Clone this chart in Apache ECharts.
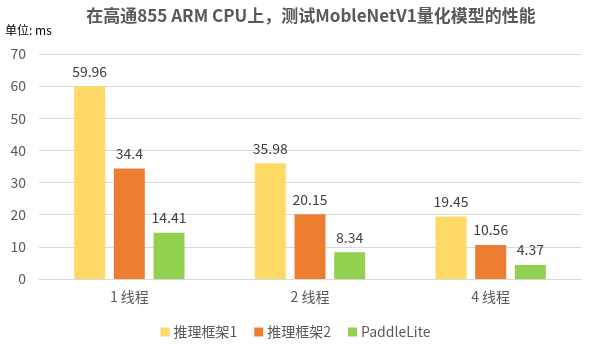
<!DOCTYPE html>
<html><head><meta charset="utf-8">
<script src="https://cdn.jsdelivr.net/npm/echarts@6/dist/echarts.min.js"></script>
<style>html,body{margin:0;padding:0;background:#fff}#c{width:591px;height:353px}</style>
</head><body><div id="c"></div>
<script>
const categories = ['1 线程', '2 线程', '4 线程'];
const seriesNames = ['推理框架1', '推理框架2', 'PaddleLite'];
const framework1 = [59.96, 35.98, 19.45];
const framework2 = [34.4, 20.15, 10.56];
const paddleLite = [14.41, 8.34, 4.37];
const yTicks = { min: 0, max: 70, interval: 10 };
const colors = ['#FFD966', '#ED7D31', '#92D050'];
const font = '"Noto Sans CJK SC", "Noto Sans", sans-serif';

const chart = echarts.init(document.getElementById('c'), null, { renderer: 'canvas' });
const mk = (name, data, color) => ({
  name, type: 'bar', data, barWidth: 31, barGap: '28%',
  itemStyle: { color },
  label: { show: true, position: 'top', distance: 8, color: '#404040', fontSize: 14, fontFamily: font }
});
chart.setOption({
  animation: false,
  color: colors,
  title: [
    { text: '在高通855 ARM CPU上，测试MobleNetV1量化模型的性能', left: 306, textAlign: 'center', top: 2,
      textStyle: { fontSize: 17, fontWeight: 'bold', color: '#595959', fontFamily: font } },
    { text: '单位: ms', left: 0, top: 19, textStyle: { fontSize: 12, fontWeight: 'normal', color: '#000', fontFamily: font } }
  ],
  legend: {
    data: seriesNames, bottom: 9, left: 'center', icon: 'rect', itemWidth: 9, itemHeight: 9, itemGap: 17,
    textStyle: { fontSize: 14, color: '#595959', fontFamily: font, padding: [0, 0, 0, -1] }
  },
  grid: { left: 39, right: 10, top: 54, bottom: 74, containLabel: false },
  xAxis: {
    type: 'category', data: categories,
    axisLine: { lineStyle: { color: '#D9D9D9' } }, axisTick: { show: false },
    axisLabel: { fontSize: 14, color: '#595959', margin: 11, fontFamily: font }
  },
  yAxis: {
    type: 'value', min: yTicks.min, max: yTicks.max, interval: yTicks.interval,
    axisLine: { show: false }, axisTick: { show: false },
    axisLabel: { fontSize: 14, color: '#595959', margin: 13, fontFamily: font },
    splitLine: { lineStyle: { color: '#D9D9D9' } }
  },
  series: [mk(seriesNames[0], framework1, colors[0]), mk(seriesNames[1], framework2, colors[1]), mk(seriesNames[2], paddleLite, colors[2])]
});
</script></body></html>
